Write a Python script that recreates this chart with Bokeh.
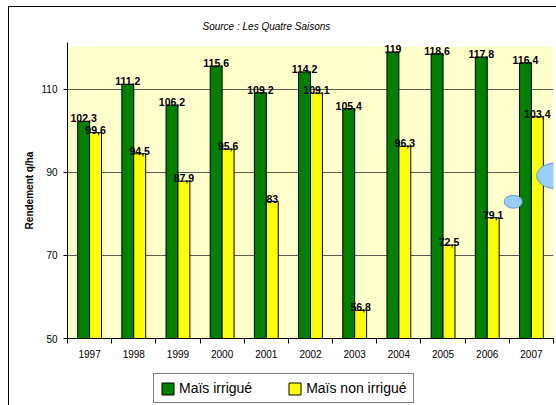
import numpy as np
from bokeh.plotting import figure
from bokeh.layouts import column
from bokeh.core.properties import value
from bokeh.models import (ColumnDataSource, FixedTicker, Legend, LegendItem,
                          LabelSet, Title, Range1d, BoxAnnotation)
from bokeh.embed import file_html
from bokeh.resources import INLINE

# ---- data ----
years = ["1997", "1998", "1999", "2000", "2001", "2002", "2003", "2004", "2005", "2006", "2007"]
irrigue = [102.3, 111.2, 106.2, 115.6, 109.2, 114.2, 105.4, 119.0, 118.6, 117.8, 116.4]
non_irrigue = [99.6, 94.5, 87.9, 95.6, 83.0, 109.1, 56.8, 96.3, 72.5, 79.1, 103.4]
y_ticks = [50, 70, 90, 110]
y_min, y_max = 50, 120.3
series_names = ["Maïs irrigué", "Maïs non irrigué"]
series_colors = ["#008000", "#FFFF00"]

# decorative blue bubbles (clip-art in the original picture)
bubble_x = [10.09, 11.07]
bubble_y = [82.95, 89.2]
bubble_w = [0.41, 0.9]
bubble_h = [3.12, 6.24]

FONT = "Liberation Sans"

def fmt(v):
    return f"{v:g}".replace(".", ",")

n = len(years)
centers = np.arange(n) + 0.5
bw = 0.27
src = ColumnDataSource(dict(
    x1=centers - bw / 2, x2=centers + bw / 2,
    irr=irrigue, non=non_irrigue,
    lab1=[fmt(v) for v in irrigue], lab2=[fmt(v) for v in non_irrigue],
))

# a little head-room above the plot area so the top value labels are not clipped
p = figure(width=547, height=363, output_backend="svg", toolbar_location=None,
           x_range=(0, n), y_range=(y_min, y_max + 1.0),
           min_border_left=58, min_border_right=3, min_border_top=35, min_border_bottom=32,
           background_fill_color="white", border_fill_color="white",
           outline_line_color=None)

# pale-yellow plot area
p.add_layout(BoxAnnotation(bottom=y_min, top=y_max, fill_color="#FFFFCC", fill_alpha=1,
                           line_color=None, level="image"))

title = Title(text="Source : Les Quatre Saisons", align="left", offset=135,
              text_font=FONT, text_font_size="10px", text_font_style="italic",
              text_color="black", standoff=22)
p.add_layout(title, "above")

r1 = p.vbar(x="x1", top="irr", bottom=y_min, width=bw, source=src,
            fill_color=series_colors[0], line_color="#000000", line_width=1)
r2 = p.vbar(x="x2", top="non", bottom=y_min, width=bw, source=src,
            fill_color=series_colors[1], line_color="#000000", line_width=1)

p.ellipse(x=bubble_x, y=bubble_y, width=bubble_w, height=bubble_h,
          fill_color="#99CCFF", line_color="#6699CC", line_width=1)

lbl_style = dict(text_font=value(FONT), text_font_size=value("10.5px"),
                 text_font_style="bold", text_color="black", text_align="center",
                 text_baseline="bottom", y_offset=-1)
p.add_layout(LabelSet(x="x1", y="irr", text="lab1", source=src, **lbl_style))
p.add_layout(LabelSet(x="x2", y="non", text="lab2", source=src, **lbl_style))

# axes
p.xaxis.ticker = FixedTicker(ticks=list(centers), minor_ticks=list(range(n + 1)))
p.xaxis.major_label_overrides = {float(c): y for c, y in zip(centers, years)}
p.xaxis.major_tick_out = 0
p.xaxis.major_tick_in = 0
p.xaxis.minor_tick_out = 5
p.xaxis.minor_tick_in = 0
p.xaxis.minor_tick_line_color = "black"
p.xaxis.major_label_standoff = 6
p.xaxis.major_label_text_font = FONT
p.xaxis.major_label_text_font_size = "10px"
p.xaxis.major_label_text_color = "black"
p.xaxis.axis_line_color = "black"

p.yaxis.ticker = FixedTicker(ticks=y_ticks)
p.yaxis.major_tick_out = 4
p.yaxis.major_tick_in = 0
p.yaxis.minor_tick_line_color = None
p.yaxis.major_label_standoff = 6
p.yaxis.major_label_text_font = FONT
p.yaxis.major_label_text_font_size = "10px"
p.yaxis.major_label_text_color = "black"
p.yaxis.axis_line_color = "black"
p.yaxis.axis_label = "Rendement q/ha"
p.yaxis.axis_label_text_font = FONT
p.yaxis.axis_label_text_font_size = "10px"
p.yaxis.axis_label_text_font_style = "bold"
p.yaxis.axis_label_text_color = "black"
p.yaxis.axis_label_standoff = 4

p.xgrid.grid_line_color = None
p.ygrid.ticker = FixedTicker(ticks=y_ticks)
p.ygrid.grid_line_color = "#5a5a50"
p.ygrid.grid_line_width = 1

# ---- legend strip below the chart ----
lg = figure(width=547, height=35, output_backend="svg", toolbar_location=None,
            x_range=Range1d(0, 1), y_range=Range1d(0, 1),
            x_axis_location=None, y_axis_location=None,
            min_border_left=0, min_border_right=0, min_border_top=0, min_border_bottom=0,
            background_fill_color="white", border_fill_color="white",
            outline_line_color=None)
lg.grid.visible = False
# legend swatches only (kept outside the visible range of this strip)
g1 = lg.vbar(x=[2], top=[0], width=0.1, fill_color=series_colors[0], line_color="#000000")
g2 = lg.vbar(x=[2], top=[0], width=0.1, fill_color=series_colors[1], line_color="#000000")

legend = Legend(items=[LegendItem(label=series_names[0], renderers=[g1]),
                       LegendItem(label=series_names[1], renderers=[g2])],
                orientation="horizontal", location=(86, 2),
                label_text_font=FONT, label_text_font_size="14px",
                label_text_color="black", glyph_width=15, glyph_height=15,
                label_height=15, label_standoff=4, spacing=35, padding=6,
                margin=0, border_line_color="black", border_line_width=1,
                background_fill_color="white", background_fill_alpha=1)
lg.add_layout(legend, "center")

layout = column(p, lg, spacing=0)
layout.styles = {"margin-left": "8px", "margin-top": "6px",
                 "border-left": "1px solid black", "border-top": "1px solid black"}

open("out.html", "w").write(file_html(layout, INLINE))
